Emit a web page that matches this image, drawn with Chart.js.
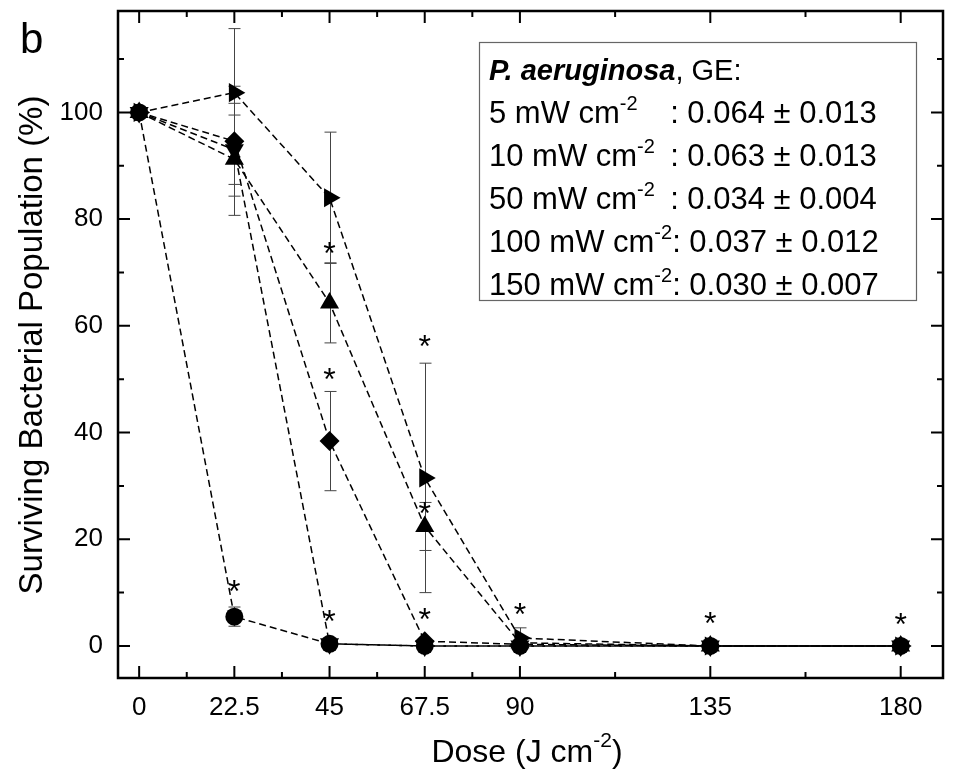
<!DOCTYPE html>
<html>
<head>
<meta charset="utf-8">
<script src="https://cdn.jsdelivr.net/npm/chart.js@4.4.0/dist/chart.umd.min.js"></script>
<style>
  html, body { margin: 0; padding: 0; background: #fff; }
  #wrap { width: 954px; height: 779px; }
</style>
</head>
<body>
<div id="wrap"><canvas id="chart" width="954" height="779"></canvas></div>
<script>
const doses = [0, 22.5, 45, 67.5, 90, 135, 180];
const xTicks = [0, 22.5, 45, 67.5, 90, 135, 180];
const xMinorTicks = [11.25, 33.75, 56.25, 78.75, 112.5, 157.5];
const yTicks = [0, 20, 40, 60, 80, 100];
const yMinorTicks = [10, 30, 50, 70, 90, 110];

// surviving population (%) per irradiance
const circle5 = [100, 5.5, 0.4, 0, 0, 0, 0];
const circle5Err = [0, 1.8, 0, 0, 0, 0, 0];
const downTri10 = [100, 93, 0.4, 0, 0, 0, 0];
const downTri10Err = [0, 6.5, 0, 0, 0, 0, 0];
const diamond100 = [100, 94.6, 38.4, 0.9, 0.3, 0, 0];
const diamond100Err = [0, 10.3, 9.3, 0, 0, 0, 0];
const upTri50 = [100, 91.2, 64.3, 22.4, 0.6, 0, 0];
const upTri50Err = [0, 10.5, 7.5, 4.5, 0, 0, 0];
const rightTri150 = [100, 103.7, 84, 31.5, 1.5, 0, 0];
const rightTri150Err = [0, 12, 12.3, 21.5, 1.9, 0, 0];

// significance asterisks
const starX = [22.5, 45, 45, 45, 67.5, 67.5, 67.5, 90, 135, 180];
const starY = [11.6, 6.0, 51.3, 74.9, 57.5, 26.2, 6.4, 7.3, 5.6, 5.4];

const legendPower = ["5", "10", "50", "100", "150"];
const legendGE = ["0.064 ± 0.013", "0.063 ± 0.013", "0.034 ± 0.004", "0.037 ± 0.012", "0.030 ± 0.007"];

const FONT = "'Liberation Sans', Arial, sans-serif";

function makeSet(label, values, errors, style, radius, rotation) {
    return {
        label: label,
        data: doses.map((d, i) => ({ x: d, y: values[i] })),
        errors: errors,
        borderColor: "#000",
        borderWidth: 1.5,
        borderDash: [7, 4],
        backgroundColor: "#000",
        pointBackgroundColor: "#000",
        pointBorderColor: "#000",
        pointBorderWidth: 0,
        pointStyle: style,
        pointRadius: radius,
        pointRotation: rotation,
        tension: 0,
        fill: false,
    };
}

const errorBars = {
    id: "errorBars",
    beforeDatasetsDraw(chart) {
        const ctx = chart.ctx;
        const xs = chart.scales.x, ys = chart.scales.y;
        ctx.save();
        ctx.strokeStyle = "#444";
        ctx.lineWidth = 1;
        chart.data.datasets.forEach((ds) => {
            ds.data.forEach((p, i) => {
                const e = ds.errors[i];
                if (!e) return;
                const px = Math.round(xs.getPixelForValue(p.x)) + 0.5;
                const top = ys.getPixelForValue(p.y + e);
                const bot = ys.getPixelForValue(p.y - e);
                ctx.beginPath();
                ctx.moveTo(px, top); ctx.lineTo(px, bot);
                ctx.moveTo(px - 6, top); ctx.lineTo(px + 6, top);
                ctx.moveTo(px - 6, bot); ctx.lineTo(px + 6, bot);
                ctx.stroke();
            });
        });
        ctx.restore();
    },
};

function drawRow(ctx, x, y, size, parts) {
    let cx = x;
    parts.forEach((p) => {
        if (p.at !== undefined) cx = Math.max(cx, p.at);
        const s = p.sup ? Math.round(size * 0.66) : size;
        ctx.font = (p.style || "") + " " + s + "px " + FONT;
        ctx.fillText(p.t, cx, p.sup ? y - 13 : y);
        cx += ctx.measureText(p.t).width;
    });
    return cx;
}

const decorations = {
    id: "decorations",
    afterDatasetsDraw(chart) {
        const ctx = chart.ctx;
        const xs = chart.scales.x, ys = chart.scales.y;
        ctx.save();
        ctx.fillStyle = "#000";
        ctx.textAlign = "center";
        ctx.textBaseline = "alphabetic";
        ctx.font = "32px " + FONT;
        starX.forEach((sx, i) => {
            ctx.fillText("*", xs.getPixelForValue(sx), ys.getPixelForValue(starY[i]) + 18);
        });
        ctx.restore();
    },
    afterDraw(chart) {
        const ctx = chart.ctx;
        const a = chart.chartArea;
        const xs = chart.scales.x, ys = chart.scales.y;
        ctx.save();
        // frame
        ctx.strokeStyle = "#000";
        ctx.lineWidth = 2.5;
        ctx.strokeRect(a.left, a.top, a.right - a.left, a.bottom - a.top);
        // inward ticks on all sides
        ctx.lineWidth = 2;
        ctx.beginPath();
        const xt = (v, len) => {
            const px = xs.getPixelForValue(v);
            ctx.moveTo(px, a.bottom); ctx.lineTo(px, a.bottom - len);
            ctx.moveTo(px, a.top); ctx.lineTo(px, a.top + len);
        };
        const yt = (v, len) => {
            const py = ys.getPixelForValue(v);
            ctx.moveTo(a.left, py); ctx.lineTo(a.left + len, py);
            ctx.moveTo(a.right, py); ctx.lineTo(a.right - len, py);
        };
        xTicks.forEach((v) => xt(v, 12));
        xMinorTicks.forEach((v) => xt(v, 6));
        yTicks.forEach((v) => yt(v, 12));
        yMinorTicks.forEach((v) => yt(v, 6));
        ctx.stroke();

        // axis titles
        ctx.fillStyle = "#000";
        ctx.textBaseline = "alphabetic";
        ctx.font = "32px " + FONT;
        const t1 = "Dose (J cm";
        const w1 = ctx.measureText(t1).width;
        ctx.font = "21px " + FONT;
        const ws = ctx.measureText("-2").width;
        ctx.font = "32px " + FONT;
        const w2 = ctx.measureText(")").width;
        let sx = 527 - (w1 + ws + w2) / 2;
        ctx.textAlign = "left";
        ctx.fillText(t1, sx, 762);
        ctx.font = "21px " + FONT;
        ctx.fillText("-2", sx + w1, 747);
        ctx.font = "32px " + FONT;
        ctx.fillText(")", sx + w1 + ws, 762);

        ctx.save();
        ctx.translate(42, 345);
        ctx.rotate(-Math.PI / 2);
        ctx.textAlign = "center";
        ctx.font = "33px " + FONT;
        ctx.fillText("Surviving Bacterial Population (%)", 0, 0);
        ctx.restore();

        ctx.textAlign = "left";
        ctx.font = "42px " + FONT;
        ctx.fillText("b", 20, 53);

        // GE text box
        ctx.fillStyle = "#fff";
        ctx.fillRect(479, 42, 437, 258);
        ctx.strokeStyle = "#666";
        ctx.lineWidth = 1.2;
        ctx.strokeRect(479.5, 42.5, 437, 258);
        ctx.fillStyle = "#000";
        drawRow(ctx, 489, 80, 29, [{ t: "P. aeruginosa", style: "italic bold" }, { t: ", GE:" }]);
        ctx.font = "31px " + FONT;
        const baseW = ctx.measureText("100 mW cm").width;
        ctx.font = "20px " + FONT;
        const colonAt = 489 + baseW + ctx.measureText("-2").width - 2;
        legendPower.forEach((p, i) => {
            const y = 123 + i * 43;
            drawRow(ctx, 489, y, 31, [
                { t: p + " mW cm" },
                { t: "-2", sup: true },
                { t: ": " + legendGE[i], at: colonAt },
            ]);
        });
        ctx.restore();
    },
};

const config = {
    type: "line",
    data: {
        datasets: [
            makeSet("5 mW cm-2", circle5, circle5Err, "circle", 9, 0),
            makeSet("10 mW cm-2", downTri10, downTri10Err, "triangle", 11, 180),
            makeSet("100 mW cm-2", diamond100, diamond100Err, "rectRot", 10, 0),
            makeSet("50 mW cm-2", upTri50, upTri50Err, "triangle", 11, 0),
            makeSet("150 mW cm-2", rightTri150, rightTri150Err, "triangle", 11, 90),
        ],
    },
    options: {
        responsive: false,
        animation: false,
        layout: { padding: { left: 0, right: 2, top: 11, bottom: 0 } },
        scales: {
            x: {
                type: "linear",
                min: -5,
                max: 190,
                afterBuildTicks: (scale) => {
                    scale.ticks = xTicks.map((v) => ({ value: v }));
                },
                afterFit: (scale) => {
                    scale.height = 101;
                    scale.paddingLeft = 0;
                    scale.paddingRight = 0;
                },
                grid: { display: false, drawTicks: false },
                border: { display: false },
                ticks: {
                    autoSkip: false,
                    maxRotation: 0,
                    padding: 14,
                    color: "#000",
                    font: { family: FONT, size: 26 },
                    callback: (v) => String(v),
                },
            },
            y: {
                min: -6,
                max: 119,
                afterBuildTicks: (scale) => {
                    scale.ticks = yTicks.map((v) => ({ value: v }));
                },
                afterFit: (scale) => {
                    scale.width = 118;
                    scale.paddingTop = 0;
                    scale.paddingBottom = 0;
                },
                grid: { display: false, drawTicks: false },
                border: { display: false },
                ticks: {
                    padding: 15,
                    color: "#000",
                    font: { family: FONT, size: 26 },
                    callback: (v) => String(v),
                },
            },
        },
        plugins: {
            legend: { display: false },
            tooltip: { enabled: false },
        },
    },
    plugins: [errorBars, decorations],
};

new Chart(document.getElementById("chart"), config);
</script>
</body>
</html>
